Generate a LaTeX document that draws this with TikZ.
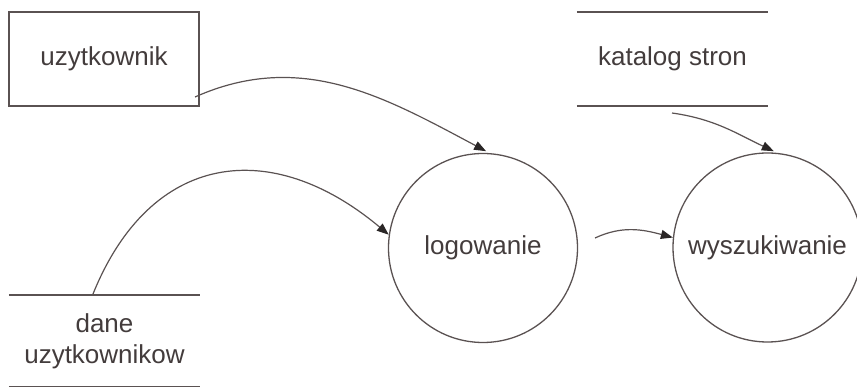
\documentclass[tikz,border=0pt]{standalone}
\usepackage{fontspec}
\setmainfont{Liberation Sans}
\usetikzlibrary{arrows.meta}
\definecolor{linec}{HTML}{5A5252}
\definecolor{textc}{HTML}{433C3C}
\definecolor{tipc}{HTML}{2A2626}
\begin{document}
\begin{tikzpicture}[x=1pt,y=1pt,
  every node/.style={font=\fontsize{26}{31}\selectfont, text=textc, align=center},
  entity/.style={draw=linec, line width=1.4pt, minimum width=190pt, minimum height=94pt, inner sep=0pt},
  store/.style={minimum width=191pt, minimum height=94pt, inner sep=0pt},
  storeline/.style={draw=linec, line width=1.6pt},
  proc/.style={circle, draw=linec, line width=1.3pt, minimum size=189pt, inner sep=0pt},
  flow/.style={draw=linec, line width=1.2pt, -{Triangle[length=12pt,width=9pt,color=tipc]}}
]
\useasboundingbox (0,0) rectangle (857,-387);
\node[entity] (uz) at (104,-59) {uzytkownik};
\node[store] (kat) at (672.5,-59) {katalog stron};
\draw[storeline] (kat.north west) -- (kat.north east);
\draw[storeline] (kat.south west) -- (kat.south east);
\node[store, minimum height=92pt] (dane) at (104.5,-341) {dane\\uzytkownikow};
\draw[storeline] (dane.north west) -- (dane.north east);
\draw[storeline] (dane.south west) -- (dane.south east);
\node[proc] (log) at (483,-248) {logowanie};
\node[proc] (wys) at (767.5,-247.5) {wyszukiwanie};
\coordinate (s1) at (195,-97);
\coordinate (s2) at (93,-294);
\coordinate (s3) at (595,-238);
\coordinate (s4) at (672,-113);
\draw[flow, shorten >=4pt] (s1) to[out=24, in=152] (log.86);
\draw[flow] (s2) to[out=68, in=140, looseness=1.3] (log.172);
\draw[flow] (s3) to[out=25, in=165] (wys.174);
\draw[flow, shorten >=4pt] (s4) to[out=-8, in=155] (wys.84);
\end{tikzpicture}
\end{document}
